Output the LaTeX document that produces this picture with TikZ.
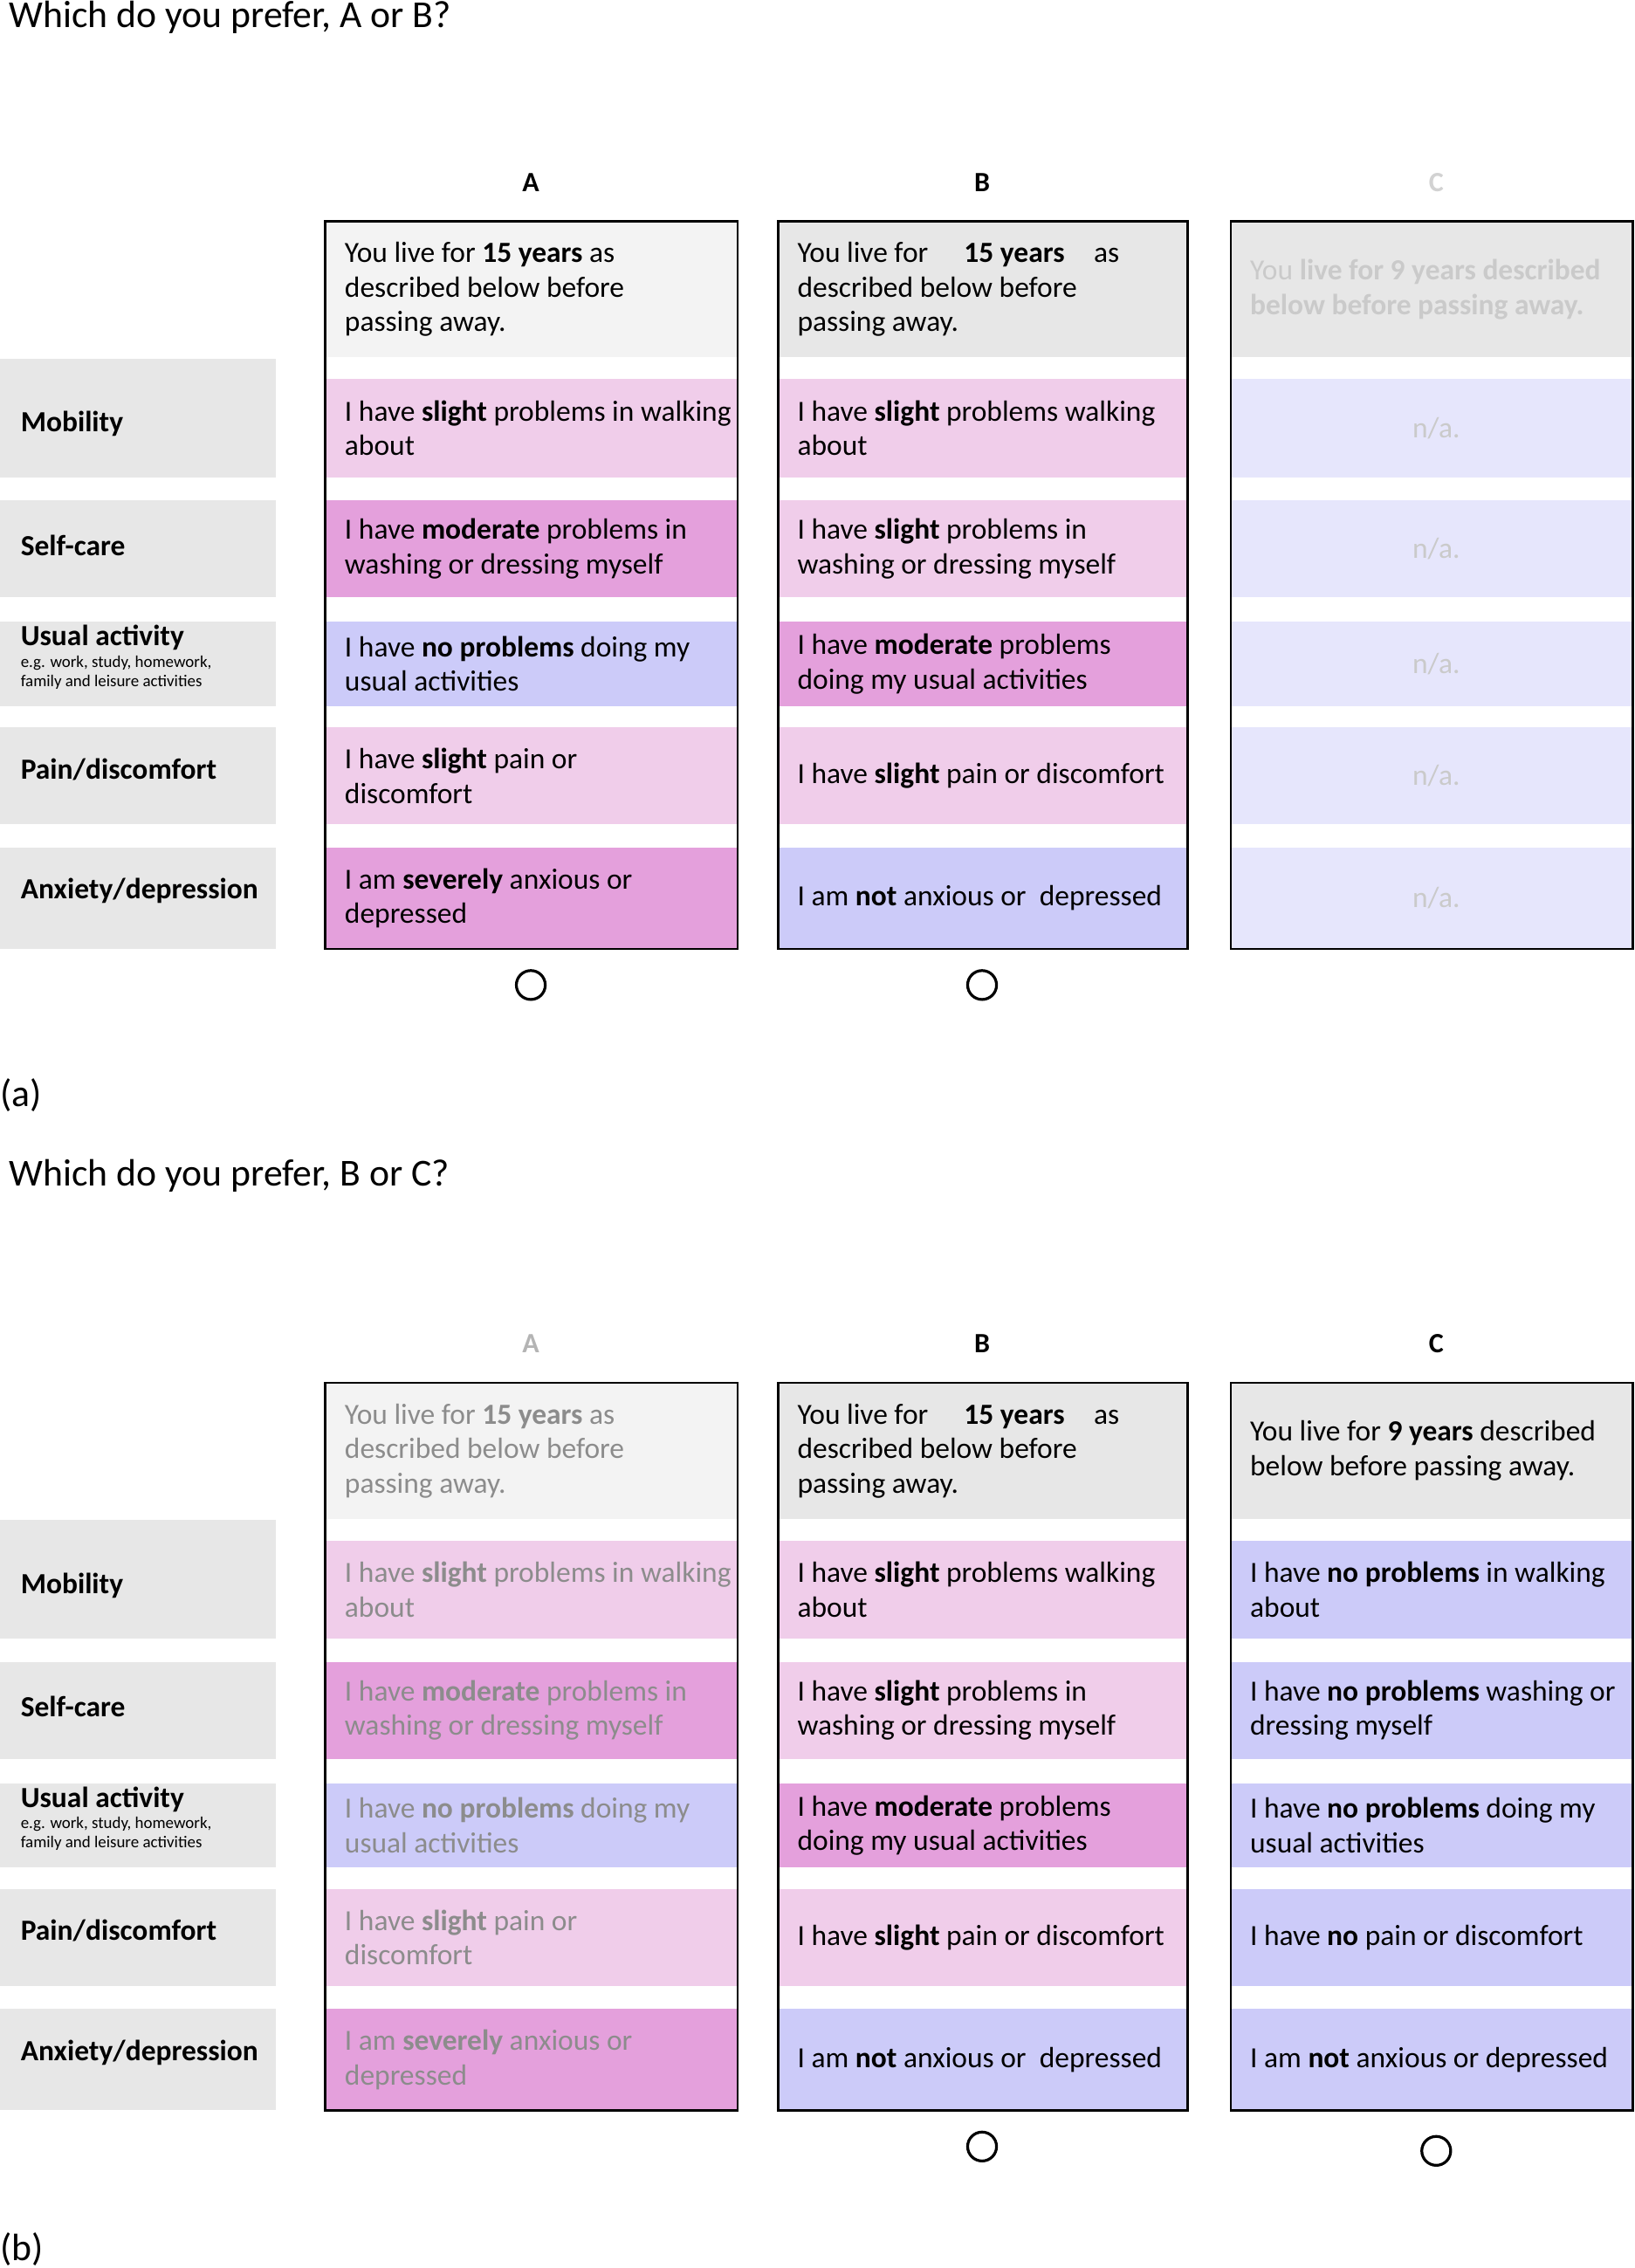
\documentclass[tikz,border=0pt]{standalone}
\usepackage{fontspec}
\setmainfont{Carlito}
\usetikzlibrary{positioning}
\definecolor{hdrA}{HTML}{F3F3F3}
\definecolor{hdrB}{HTML}{E7E7E7}
\definecolor{lbl}{HTML}{E7E7E7}
\definecolor{slight}{HTML}{F0CDEA}
\definecolor{moder}{HTML}{E4A0DC}
\definecolor{nope}{HTML}{CCCBF9}
\definecolor{pale}{HTML}{E6E6FC}
\definecolor{fade}{HTML}{8C8C8C}
\definecolor{faint}{HTML}{B4B4B4}
% one coloured cell with its text
\newcommand\cell[7]{%
  \fill[#6] (#2,#4) rectangle (#3,#5);
  \node[cell] (#1) at (#2+13,{(#4+#5)/2}) {#7};}

\begin{document}
\begin{tikzpicture}[
    x=0.02cm, y=-0.02cm,
    cell/.style={anchor=west, align=left, inner sep=0, font=\fontsize{11.5}{13.6}\selectfont},
    rowlabel/.style={anchor=west, align=left, inner sep=0, font=\fontsize{11.5}{13}\selectfont\bfseries},
    title/.style={anchor=west, inner sep=0, font=\fontsize{15}{18}\selectfont},
    colhead/.style={inner sep=0, font=\fontsize{11}{13}\selectfont\bfseries},
    frame/.style={draw=black, line width=0.9pt},
    choice/.style={circle, draw=black, line width=1.1pt, minimum size=0.4cm, inner sep=0},
    ]
    \useasboundingbox (0,0) rectangle (1130,1568);

    \foreach \p/\dy in {a/0, b/803} {
    \begin{scope}[yshift=-\dy*0.02cm]
        % row labels
        \fill[lbl] (0,248) rectangle (191,330);
        \fill[lbl] (0,346) rectangle (191,413);
        \fill[lbl] (0,430) rectangle (191,488);
        \fill[lbl] (0,503) rectangle (191,570);
        \fill[lbl] (0,586) rectangle (191,656);
        \node[rowlabel] (\p-mob) at (14,293) {Mobility};
        \node[rowlabel] (\p-self) at (14,377) {Self-care};
        \node[rowlabel] (\p-usual) at (14,441) {Usual activity};
        \node[anchor=north west, align=left, inner sep=0,
            font=\fontsize{6.5}{7.6}\selectfont] (\p-eg) at (14,453)
            {e.g. work, study, homework,\\family and leisure activities};
        \node[rowlabel] (\p-pain) at (14,532) {Pain/discomfort};
        \node[rowlabel] (\p-anx) at (14,616) {Anxiety/depression};
        % column B
        \cell{\p-B0}{538}{821}{153}{247}{hdrB}{You live for \quad\textbf{15 years}\quad as\\described below before\\passing away.}
        \cell{\p-B1}{538}{821}{262}{330}{slight}{I have \textbf{slight} problems walking\\about}
        \cell{\p-B2}{538}{821}{346}{413}{slight}{I have \textbf{slight} problems in\\washing or dressing myself}
        \cell{\p-B3}{538}{821}{430}{488}{moder}{I have \textbf{moderate} problems\\doing my usual activities}
        \cell{\p-B4}{538}{821}{503}{570}{slight}{I have \textbf{slight} pain or discomfort}
        \cell{\p-B5}{538}{821}{586}{656}{nope}{I am \textbf{not} anxious or\ \ depressed}
        \draw[frame] (538,153) rectangle (821,656);
        \node[choice] (\p-okB) at (679,681) {};
    \end{scope}
    }

    % panel (a)
    \node[title] (qa) at (6,12) {Which do you prefer, A or B?};
    \node[colhead] (hA) at (367,126) {A};
    \node[colhead] (hB) at (679,126) {B};
    \node[colhead, text=faint!60] (hC) at (993,126) {C};
    \cell{a-A0}{225}{510}{153}{247}{hdrA}{You live for \textbf{15 years} as\\described below before\\passing away.}
    \cell{a-A1}{225}{510}{262}{330}{slight}{I have \textbf{slight} problems in walking\\about}
    \cell{a-A2}{225}{510}{346}{413}{moder}{I have \textbf{moderate} problems in\\washing or dressing myself}
    \cell{a-A3}{225}{510}{430}{488}{nope}{I have \textbf{no problems} doing my\\usual activities}
    \cell{a-A4}{225}{510}{503}{570}{slight}{I have \textbf{slight} pain or\\discomfort}
    \cell{a-A5}{225}{510}{586}{656}{moder}{I am \textbf{severely} anxious or\\depressed}
    \draw[frame] (225,153) rectangle (510,656);
    \node[choice] (a-okA) at (367,681) {};
    \cell{a-C0}{851}{1129}{153}{247}{hdrB}{\textcolor{faint!70}{You \textbf{live for 9 years described}}\\\textcolor{faint!70}{\textbf{below before passing away.}}}
    \foreach \y/\z [count=\i] in {262/330, 346/413, 430/488, 503/570, 586/656} {
        \fill[pale] (851,\y) rectangle (1129,\z);
        \node[cell, anchor=center, text=faint!70] (a-C\i) at (993,{(\y+\z)/2}) {n/a.};
    }
    \draw[frame] (851,153) rectangle (1129,656);
    \node[title] (tag-a) at (0,757) {(a)};

    % panel (b)
    \node[title] (qb) at (6,813) {Which do you prefer, B or C?};
    \node[colhead, text=faint] (hA2) at (367,929) {A};
    \node[colhead] (hB2) at (679,929) {B};
    \node[colhead] (hC2) at (993,929) {C};
    \begin{scope}[yshift=-803*0.02cm, every node/.append style={text=fade}]
        \cell{b-A0}{225}{510}{153}{247}{hdrA}{You live for \textbf{15 years} as\\described below before\\passing away.}
        \cell{b-A1}{225}{510}{262}{330}{slight}{I have \textbf{slight} problems in walking\\about}
        \cell{b-A2}{225}{510}{346}{413}{moder}{I have \textbf{moderate} problems in\\washing or dressing myself}
        \cell{b-A3}{225}{510}{430}{488}{nope}{I have \textbf{no problems} doing my\\usual activities}
        \cell{b-A4}{225}{510}{503}{570}{slight}{I have \textbf{slight} pain or\\discomfort}
        \cell{b-A5}{225}{510}{586}{656}{moder}{I am \textbf{severely} anxious or\\depressed}
    \end{scope}
    \begin{scope}[yshift=-803*0.02cm]
        \draw[frame] (225,153) rectangle (510,656);
        \cell{b-C0}{851}{1129}{153}{247}{hdrB}{You live for \textbf{9 years} described\\below before passing away.}
        \cell{b-C1}{851}{1129}{262}{330}{nope}{I have \textbf{no problems} in walking\\about}
        \cell{b-C2}{851}{1129}{346}{413}{nope}{I have \textbf{no problems} washing or\\dressing myself}
        \cell{b-C3}{851}{1129}{430}{488}{nope}{I have \textbf{no problems} doing my\\usual activities}
        \cell{b-C4}{851}{1129}{503}{570}{nope}{I have \textbf{no} pain or discomfort}
        \cell{b-C5}{851}{1129}{586}{656}{nope}{I am \textbf{not} anxious or depressed}
        \draw[frame] (851,153) rectangle (1129,656);
        \node[choice] (b-okC) at (993,684) {};
    \end{scope}
    \node[title] (tag-b) at (0,1555) {(b)};
\end{tikzpicture}
\end{document}
